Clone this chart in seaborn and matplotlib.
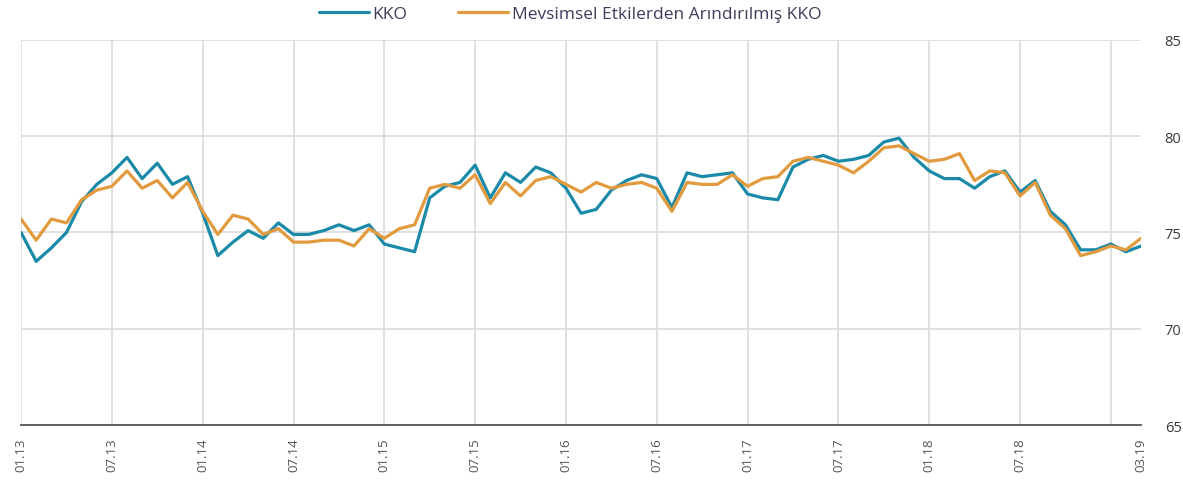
import numpy as np
import pandas as pd
import seaborn as sns
import matplotlib.pyplot as plt
from matplotlib.ticker import FixedLocator, FixedFormatter

# monthly, 01.13 .. 03.19
kko = [75.0, 73.5, 74.2, 75.0, 76.6, 77.5, 78.1, 78.9, 77.8, 78.6, 77.5, 77.9,
       76.0, 73.8, 74.5, 75.1, 74.7, 75.5, 74.9, 74.9, 75.1, 75.4, 75.1, 75.4,
       74.4, 74.2, 74.0, 76.8, 77.4, 77.6, 78.5, 76.8, 78.1, 77.6, 78.4, 78.1,
       77.3, 76.0, 76.2, 77.2, 77.7, 78.0, 77.8, 76.3, 78.1, 77.9, 78.0, 78.1,
       77.0, 76.8, 76.7, 78.4, 78.8, 79.0, 78.7, 78.8, 79.0, 79.7, 79.9, 78.9,
       78.2, 77.8, 77.8, 77.3, 77.9, 78.2, 77.1, 77.7, 76.1, 75.4, 74.1, 74.1,
       74.4, 74.0, 74.3]
kko_sa = [75.7, 74.6, 75.7, 75.5, 76.7, 77.2, 77.4, 78.2, 77.3, 77.7, 76.8, 77.6,
          76.1, 74.9, 75.9, 75.7, 74.9, 75.2, 74.5, 74.5, 74.6, 74.6, 74.3, 75.2,
          74.7, 75.2, 75.4, 77.3, 77.5, 77.3, 78.0, 76.5, 77.6, 76.9, 77.7, 77.9,
          77.5, 77.1, 77.6, 77.3, 77.5, 77.6, 77.3, 76.1, 77.6, 77.5, 77.5, 78.0,
          77.4, 77.8, 77.9, 78.7, 78.9, 78.7, 78.5, 78.1, 78.7, 79.4, 79.5, 79.1,
          78.7, 78.8, 79.1, 77.7, 78.2, 78.1, 76.9, 77.6, 75.9, 75.2, 73.8, 74.0,
          74.3, 74.1, 74.7]

tick_pos = [0, 6, 12, 18, 24, 30, 36, 42, 48, 54, 60, 66, 72]
tick_labels = ["01.13", "07.13", "01.14", "07.14", "01.15", "07.15", "01.16",
               "07.16", "01.17", "07.17", "01.18", "07.18", ""]
last_label = "03.19"
series_names = ["KKO", "Mevsimsel Etkilerden Arındırılmış KKO"]

months = np.arange(len(kko))
df = pd.DataFrame({
    "ay": np.concatenate([months, months]),
    "deger": kko + kko_sa,
    "seri": [series_names[0]] * len(kko) + [series_names[1]] * len(kko_sa),
})

sns.set_style("white")
plt.rcParams['font.family'] = ['Open Sans', 'DejaVu Sans']

fig = plt.figure(figsize=(11.83, 4.89), dpi=100)
ax = fig.add_axes([0.0178, 0.1288, 0.9468, 0.7874])

sns.lineplot(data=df, x="ay", y="deger", hue="seri",
             palette=["#1a8aa8", "#e29a3e"], linewidth=2.3, ax=ax)

ax.set_xlim(0, 74)
ax.set_ylim(65, 85)
ax.set_yticks([65, 70, 75, 80, 85])
ax.yaxis.tick_right()
ax.tick_params(axis='y', length=0, pad=17, labelsize=10.5, labelcolor="#3a3a3a")

ax.xaxis.set_major_locator(FixedLocator(tick_pos))
ax.xaxis.set_major_formatter(FixedFormatter(tick_labels))
ax.xaxis.set_minor_locator(FixedLocator([74]))
ax.xaxis.set_minor_formatter(FixedFormatter([last_label]))
ax.tick_params(axis='x', which='major', length=5, width=1.2, color="#555555",
               labelrotation=90, labelsize=9.5, labelcolor="#555555", pad=4)
ax.tick_params(axis='x', which='minor', length=0, labelrotation=90,
               labelsize=9.5, labelcolor="#555555", pad=9)

ax.grid(True, which='major', color="#dddddd", linewidth=1.3)
ax.set_axisbelow(True)
for s in ["top", "right", "left"]:
    ax.spines[s].set_visible(False)
ax.spines["bottom"].set_color("#555555")
ax.spines["bottom"].set_linewidth(1.3)
ax.set_xlabel("")
ax.set_ylabel("")

leg = ax.legend(loc="center", bbox_to_anchor=(0.49, 1.068), ncol=2,
                frameon=False, fontsize=12.5, handlelength=2.9, columnspacing=2.9,
                handletextpad=0.2)
for t in leg.get_texts():
    t.set_color("#3c3c5a")

fig.savefig("out.png", dpi=100)
